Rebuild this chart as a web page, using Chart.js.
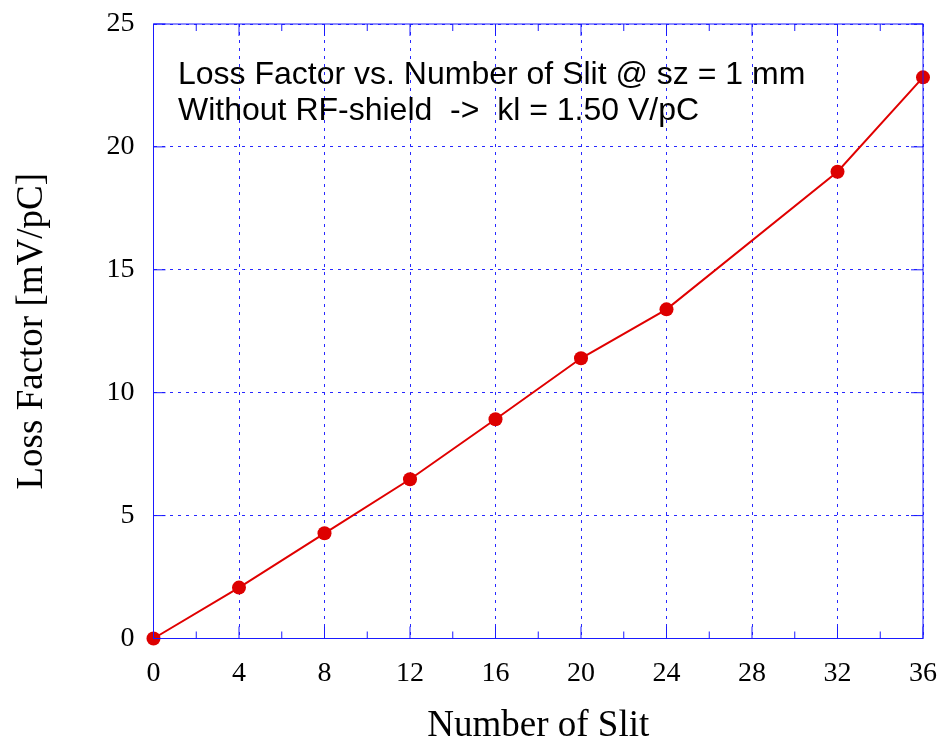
<!DOCTYPE html>
<html>
<head>
<meta charset="utf-8">
<script src="https://cdn.jsdelivr.net/npm/chart.js@4"></script>
<style>
  html, body { margin: 0; padding: 0; background: #fff; }
  #wrap { width: 940px; height: 742px; }
</style>
</head>
<body>
<div id="wrap"><canvas id="lossChart"></canvas></div>
<script>
// slit count vs loss factor
const slitCounts = [0, 4, 8, 12, 16, 20, 24, 32, 36];
const lossFactor = [0, 2.07, 4.28, 6.48, 8.92, 11.40, 13.39, 18.99, 22.83];
const xTicks = [0, 4, 8, 12, 16, 20, 24, 28, 32, 36];
const yTicks = [0, 5, 10, 15, 20, 25];
const noteLines = [
    'Loss Factor vs. Number of Slit @ sz = 1 mm',
    'Without RF-shield  ->  kl = 1.50 V/pC'
];

const axisBlue = '#1a1aff';
const gridBlue = '#2828ff';
const serif = '"Liberation Serif", "Times New Roman", serif';

// frame, inward ticks and the text note inside the plot
const framePlugin = {
    id: 'frame',
    afterDraw(chart) {
        const { ctx, chartArea: a, scales } = chart;
        const xs = scales.x, ys = scales.y;
        ctx.save();
        ctx.strokeStyle = axisBlue;
        ctx.lineWidth = 1;
        ctx.strokeRect(a.left, a.top, a.right - a.left, a.bottom - a.top);

        ctx.beginPath();
        xTicks.forEach(v => {
            const px = xs.getPixelForValue(v);
            ctx.moveTo(px, a.bottom); ctx.lineTo(px, a.bottom - 12);
            ctx.moveTo(px, a.top); ctx.lineTo(px, a.top + 12);
            const mid = xs.getPixelForValue(v + 2);
            if (v < 36) {
                ctx.moveTo(mid, a.bottom); ctx.lineTo(mid, a.bottom - 7);
                ctx.moveTo(mid, a.top); ctx.lineTo(mid, a.top + 7);
            }
        });
        yTicks.forEach(v => {
            const py = ys.getPixelForValue(v);
            ctx.moveTo(a.left, py); ctx.lineTo(a.left + 12, py);
            ctx.moveTo(a.right, py); ctx.lineTo(a.right - 12, py);
        });
        ctx.stroke();

        ctx.fillStyle = '#000';
        ctx.font = '32px "Liberation Sans", Arial, sans-serif';
        ctx.textBaseline = 'alphabetic';
        ctx.textAlign = 'left';
        ctx.fillText(noteLines[0], 178, 84);
        ctx.fillText(noteLines[1], 178, 120);
        ctx.restore();
    }
};

new Chart(document.getElementById('lossChart'), {
    type: 'line',
    data: {
        datasets: [{
            data: slitCounts.map((x, i) => ({ x: x, y: lossFactor[i] })),
            borderColor: '#e00000',
            backgroundColor: '#dd0000',
            borderWidth: 2,
            pointRadius: 7,
            pointBorderWidth: 0,
            pointBackgroundColor: '#dd0000',
            tension: 0,
            clip: false
        }]
    },
    options: {
        responsive: true,
        maintainAspectRatio: false,
        animation: false,
        layout: { padding: { left: 0, right: 17, top: 24, bottom: 0 } },
        plugins: { legend: { display: false }, tooltip: { enabled: false } },
        scales: {
            x: {
                type: 'linear',
                min: 0, max: 36,
                afterBuildTicks: s => { s.ticks = xTicks.map(v => ({ value: v })); },
                afterFit: s => { s.height = 103.5; s.paddingLeft = 0; s.paddingRight = 0; },
                ticks: { color: '#000', font: { family: serif, size: 28 }, padding: 18, maxRotation: 0 },
                grid: { color: gridBlue, lineWidth: 1, drawTicks: false },
                border: { display: false, dash: [3, 5] },
                title: {
                    display: true, text: 'Number of Slit', color: '#000',
                    font: { family: serif, size: 37, lineHeight: 0.85 },
                    padding: { top: 0, bottom: 0 }
                }
            },
            y: {
                min: 0, max: 25,
                afterBuildTicks: s => { s.ticks = yTicks.map(v => ({ value: v })); },
                afterFit: s => { s.width = 153.5; s.paddingTop = 0; s.paddingBottom = 0; },
                ticks: { color: '#000', font: { family: serif, size: 28 }, padding: 19 },
                grid: { color: gridBlue, lineWidth: 1, drawTicks: false },
                border: { display: false, dash: [3, 5] },
                title: {
                    display: true, text: 'Loss Factor [mV/pC]', color: '#000',
                    font: { family: serif, size: 37, lineHeight: 1 },
                    padding: { top: 13.5, bottom: 0 }
                }
            }
        }
    },
    plugins: [framePlugin]
});
</script>
</body>
</html>
